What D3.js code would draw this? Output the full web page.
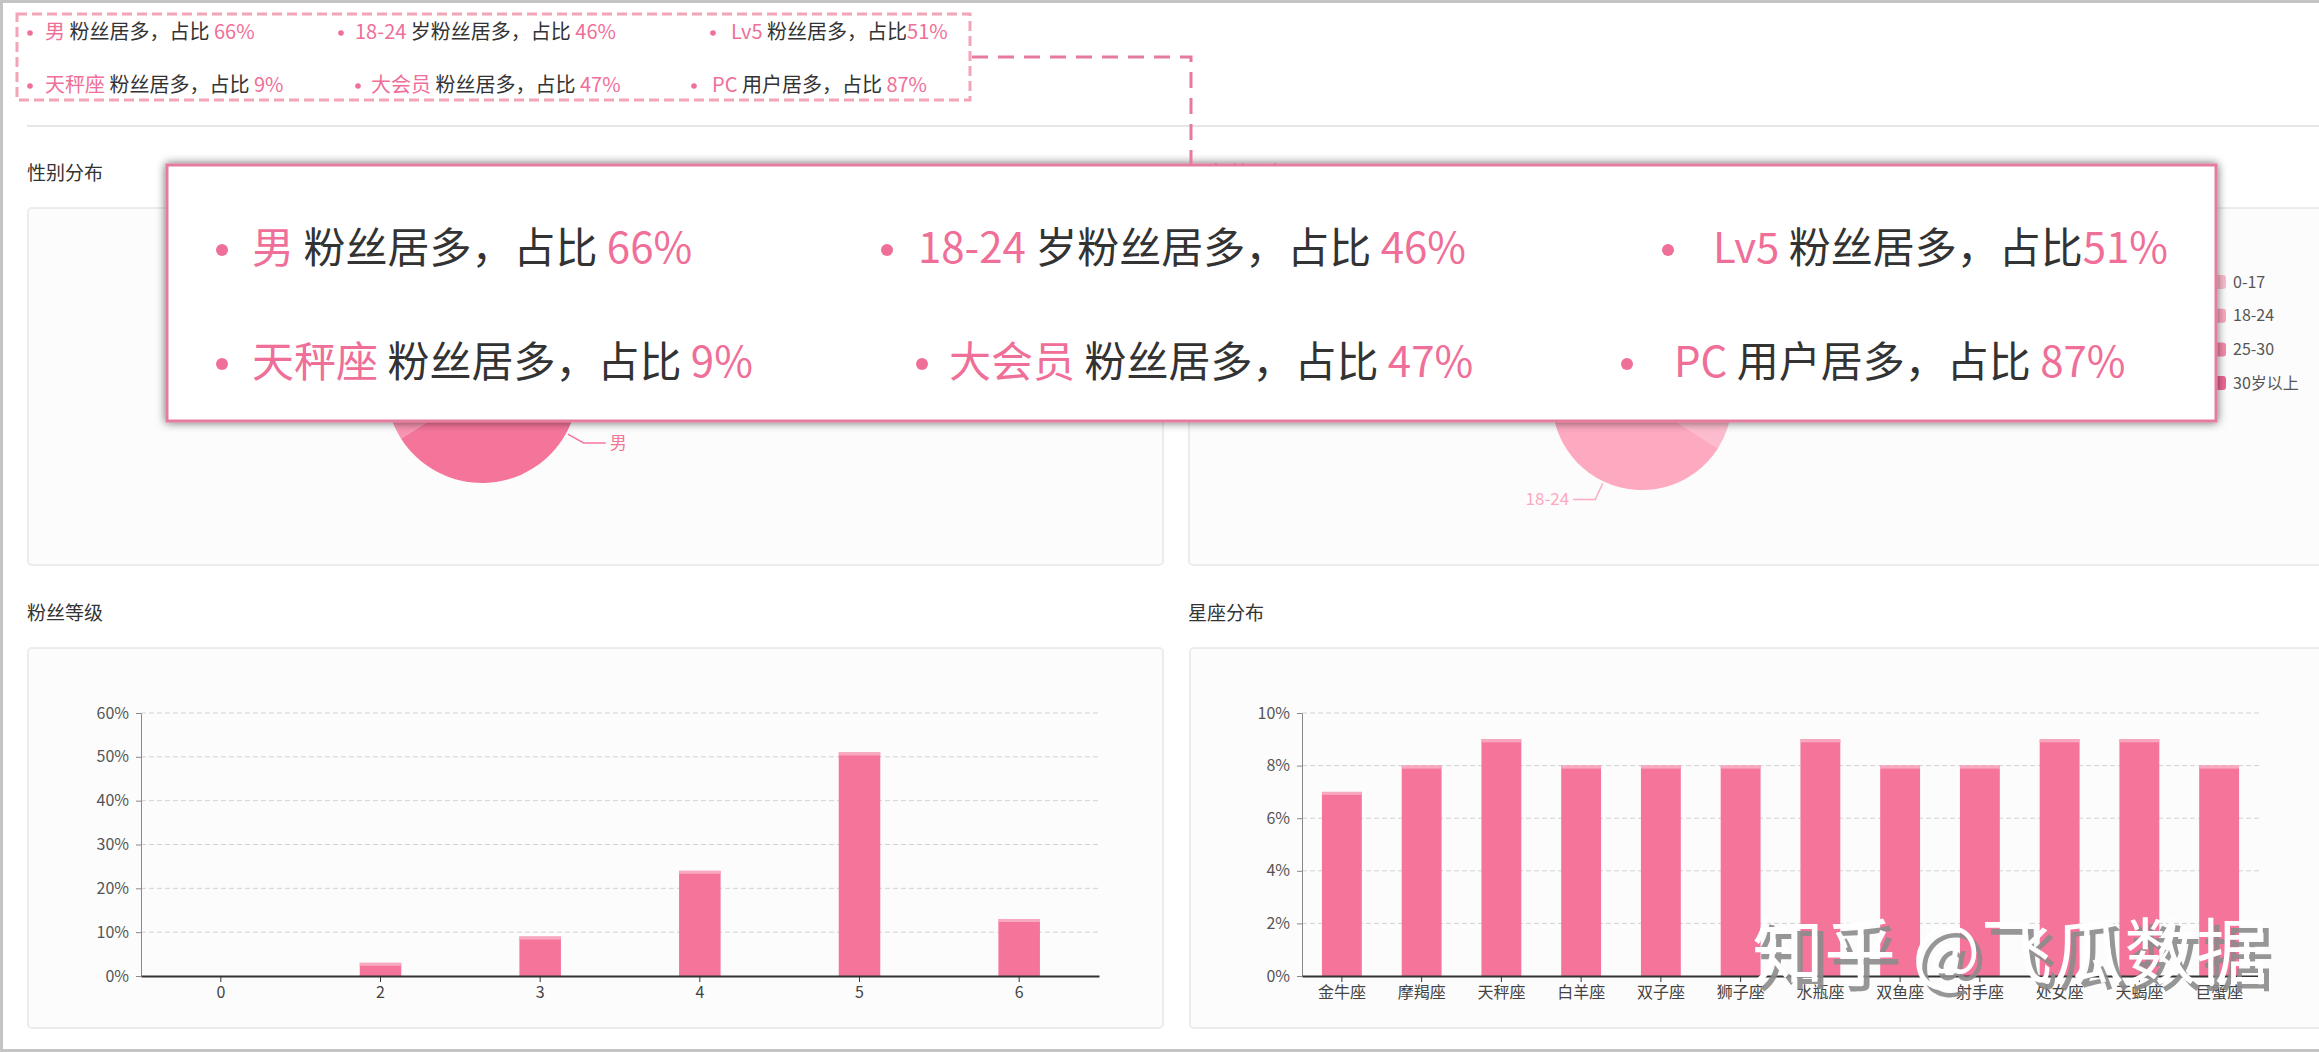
<!DOCTYPE html>
<html>
<head>
<meta charset="utf-8">
<script src="https://cdn.jsdelivr.net/npm/d3@7"></script>
<style>
body { margin: 0; background: #fff; }
text { font-family: "Noto Sans CJK SC", "Microsoft YaHei", sans-serif; white-space: pre; }
</style>
</head>
<body>
<svg id="chart" width="2319" height="1052"></svg>
<script>
// ---- data ----
var genderLabels = ["男", "女"];
var genderValues = [66, 34];
var ageLabels = ["0-17", "18-24", "25-30", "30岁以上"];
var ageValues = [34, 46, 13, 7];
var levelLabels = ["0", "2", "3", "4", "5", "6"];
var levelValues = [0, 3, 9, 24, 51, 13];
var levelTicks = [0, 10, 20, 30, 40, 50, 60];
var starLabels = ["金牛座", "摩羯座", "天秤座", "白羊座", "双子座", "狮子座", "水瓶座", "双鱼座", "射手座", "处女座", "天蝎座", "巨蟹座"];
var starValues = [7, 8, 9, 8, 8, 8, 9, 8, 8, 9, 9, 8];
var starTicks = [0, 2, 4, 6, 8, 10];
var summaryHighlights = ["男", "18-24", "Lv5", "天秤座", "大会员", "PC"];
var summaryMiddles = [" 粉丝居多，占比 ", " 岁粉丝居多，占比 ", " 粉丝居多，占比", " 粉丝居多，占比 ", " 粉丝居多，占比 ", " 用户居多，占比 "];
var summaryPercents = ["66%", "46%", "51%", "9%", "47%", "87%"];

var PINK = "#ef6f98";
var BAR = "#f4749a";

var svg = d3.select("#chart");

// page frame + separator
svg.append("line").attr("x1", 0).attr("x2", 2319).attr("y1", 1.5).attr("y2", 1.5).attr("stroke", "#c4c4c4").attr("stroke-width", 3);
svg.append("line").attr("x1", 1.5).attr("x2", 1.5).attr("y1", 0).attr("y2", 1052).attr("stroke", "#c4c4c4").attr("stroke-width", 3);
svg.append("line").attr("x1", 0).attr("x2", 2319).attr("y1", 1050.5).attr("y2", 1050.5).attr("stroke", "#c4c4c4").attr("stroke-width", 3);
svg.append("line").attr("x1", 27).attr("x2", 2319).attr("y1", 126).attr("y2", 126).attr("stroke", "#e6e6e6").attr("stroke-width", 2);

// panel titles and cards
function panel(title, tx, ty, x, y, w, h) {
    svg.append("text").attr("x", tx).attr("y", ty).attr("dy", "0.35em")
        .attr("fill", "#333").style("font-size", "19px").text(title);
    svg.append("rect").attr("x", x).attr("y", y).attr("width", w).attr("height", h)
        .attr("rx", 4).attr("fill", "#fcfcfc").attr("stroke", "#ececec").attr("stroke-width", 2);
}
panel("性别分布", 27, 173, 28, 208, 1135, 357);
panel("年龄分布", 1210, 173, 1189, 208, 1160, 357);
panel("粉丝等级", 27, 613, 28, 648, 1135, 380);
panel("星座分布", 1188, 613, 1190, 648, 1160, 380);

// ---- bar charts ----
function barChart(labels, values, ticks, x0, x1, pad) {
    var y0 = 976, y1 = 713;
    var x = d3.scaleBand().domain(labels).range([x0, x1]).paddingInner(pad).paddingOuter(pad / 2);
    var y = d3.scaleLinear().domain([0, ticks[ticks.length - 1]]).range([y0, y1]);
    var g = svg.append("g");

    g.selectAll(".grid").data(ticks.filter(function (t) { return t > 0; }))
        .enter().append("line")
        .attr("x1", x0).attr("x2", x1)
        .attr("y1", function (d) { return y(d); }).attr("y2", function (d) { return y(d); })
        .attr("stroke", "#d2d2d2").attr("stroke-dasharray", "5 3");

    var ya = g.append("g").attr("transform", "translate(" + x0 + ",0)")
        .call(d3.axisLeft(y).tickValues(ticks).tickFormat(function (d) { return d + "%"; })
            .tickSize(5).tickSizeOuter(0).tickPadding(7));
    ya.select(".domain").attr("stroke", "#888");
    ya.selectAll(".tick line").attr("stroke", "#888");
    ya.selectAll("text").attr("fill", "#555").style("font-size", "16px");

    // bars plus a thin lighter cap on top
    g.selectAll(".bar").data(values).enter().append("rect")
        .attr("x", function (d, i) { return x(labels[i]); })
        .attr("y", function (d) { return y(d); })
        .attr("width", x.bandwidth())
        .attr("height", function (d) { return y0 - y(d); })
        .attr("fill", BAR);
    g.selectAll(".cap").data(values).enter().append("rect")
        .attr("x", function (d, i) { return x(labels[i]); })
        .attr("y", function (d) { return y(d); })
        .attr("width", x.bandwidth())
        .attr("height", function (d) { return d > 0 ? 3 : 0; })
        .attr("fill", "#f9a9bf");

    var xa = g.append("g").attr("transform", "translate(0," + y0 + ")")
        .call(d3.axisBottom(x).tickSize(6).tickSizeOuter(0).tickPadding(5));
    xa.select(".domain").attr("stroke", "#333").attr("stroke-width", 2);
    xa.selectAll(".tick line").attr("stroke", "#333");
    xa.selectAll("text").attr("fill", "#444").style("font-size", "16px");
}
barChart(levelLabels, levelValues, levelTicks, 141, 1099, 0.74);
barChart(starLabels, starValues, starTicks, 1302, 2259, 0.5);

// ---- pies ----
function pieChart(labels, values, colors, cx, cy, r) {
    var pie = d3.pie().sort(null).value(function (d) { return d; });
    var arc = d3.arc().innerRadius(0).outerRadius(r);
    var g = svg.append("g").attr("transform", "translate(" + cx + "," + cy + ")");
    var arcs = pie(values);
    g.selectAll("path").data(arcs).enter().append("path")
        .attr("d", arc).attr("fill", function (d, i) { return colors[i]; });
    arcs.forEach(function (d, i) {
        var a = (d.startAngle + d.endAngle) / 2;
        var sx = Math.sin(a), sy = -Math.cos(a);
        var side = sx >= 0 ? 1 : -1;
        var p1 = [sx * (r + 2), sy * (r + 2)];
        var p2 = [sx * (r + 20), sy * (r + 20)];
        var p3 = [p2[0] + side * 22, p2[1]];
        g.append("polyline").attr("points", [p1, p2, p3].join(" "))
            .attr("fill", "none").attr("stroke", colors[i]).attr("stroke-width", 1.5);
        g.append("text").attr("x", p3[0] + side * 4).attr("y", p3[1]).attr("dy", "0.35em")
            .attr("text-anchor", side > 0 ? "start" : "end")
            .attr("fill", colors[i]).style("font-size", "17px").text(labels[i]);
    });
}
pieChart(genderLabels, genderValues, ["#f5759a", "#f794b1"], 482, 387, 96);
var ageColors = ["#fdbccd", "#fda9c0", "#f78aab", "#ee6a94"];
pieChart(ageLabels, ageValues, ageColors, 1642, 400, 90);

// age legend
var lg = svg.append("g").selectAll("g").data(ageLabels).enter().append("g")
    .attr("transform", function (d, i) { return "translate(2201," + (282 + i * 33.7) + ")"; });
lg.append("rect").attr("x", 0).attr("y", -7).attr("width", 25).attr("height", 14).attr("rx", 3)
    .attr("fill", function (d, i) { return ageColors[i]; });
lg.append("text").attr("x", 32).attr("dy", "0.35em").attr("fill", "#555").style("font-size", "16px")
    .text(function (d) { return d; });

// ---- summary popup ----
var defs = svg.append("defs");
var f = defs.append("filter").attr("id", "shadow").attr("x", "-5%").attr("y", "-10%").attr("width", "110%").attr("height", "120%");
f.append("feDropShadow").attr("dx", 0).attr("dy", 0).attr("stdDeviation", 5)
    .attr("flood-color", "#000").attr("flood-opacity", 0.6);

svg.append("rect").attr("x", 167).attr("y", 165).attr("width", 2049).attr("height", 256)
    .attr("fill", "#fff").attr("stroke", "#e47c9e").attr("stroke-width", 3).attr("filter", "url(#shadow)");

function summary(textX, dotX, rowY, size, dotR) {
    summaryHighlights.forEach(function (h, i) {
        var y = rowY[Math.floor(i / 3)];
        svg.append("circle").attr("cx", dotX[i]).attr("cy", y + size * 0.05).attr("r", dotR).attr("fill", PINK);
        var t = svg.append("text").attr("x", textX[i]).attr("y", y).attr("dy", "0.35em").style("font-size", size + "px");
        t.append("tspan").attr("fill", PINK).text(h);
        t.append("tspan").attr("fill", "#333").text(summaryMiddles[i]);
        t.append("tspan").attr("fill", PINK).text(summaryPercents[i]);
    });
}
summary([252, 918, 1713, 252, 949, 1674], [222, 887, 1668, 222, 922, 1627], [248, 362], 42, 6);

// small summary box at top
svg.append("rect").attr("x", 17).attr("y", 14).attr("width", 953).attr("height", 86)
    .attr("fill", "none").attr("stroke", "#f4a4b7").attr("stroke-width", 3).attr("stroke-dasharray", "10 5");
summary([45, 355, 731, 45, 371, 712], [30, 341, 713, 30, 358, 694], [32, 85], 20, 2.8);

// dashed connector
svg.append("path").attr("d", "M972,57H1191V165").attr("fill", "none")
    .attr("stroke", "#e67a9c").attr("stroke-width", 3).attr("stroke-dasharray", "16 10");

// watermark
var wm = "知乎 @飞瓜数据";
svg.append("text").attr("x", 1758).attr("y", 985).attr("fill", "#8c8c8c").attr("opacity", 0.9)
    .style("font-size", "72px").text(wm);
svg.append("text").attr("x", 1752).attr("y", 978).attr("fill", "#fff")
    .style("font-size", "72px").text(wm);
</script>
</body>
</html>
